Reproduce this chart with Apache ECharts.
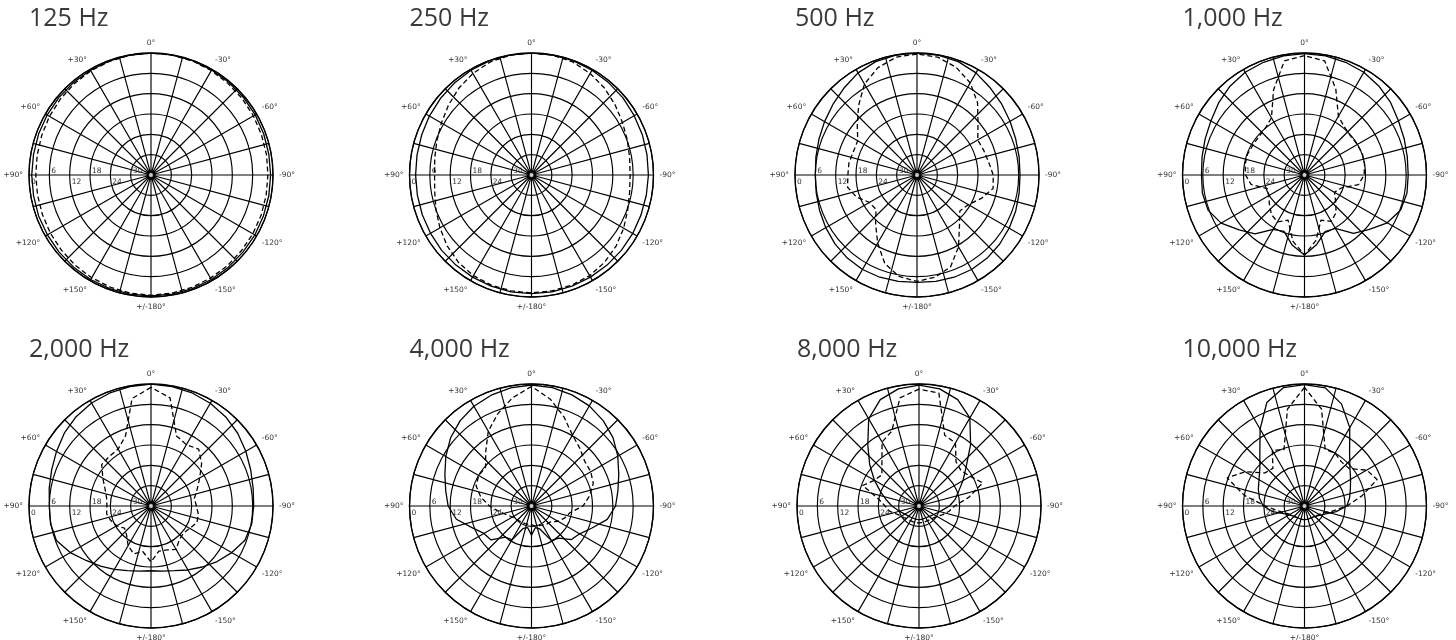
<!DOCTYPE html>
<html>
<head>
<meta charset="utf-8">
<script src="https://cdn.jsdelivr.net/npm/echarts@6/dist/echarts.min.js"></script>
<style>
html,body{margin:0;padding:0;background:#fff;}
#chart{width:1456px;height:640px;}
</style>
</head>
<body>
<div id="chart"></div>
<script>
// Panel titles
const titles = ['125 Hz', '250 Hz', '500 Hz', '1,000 Hz', '2,000 Hz', '4,000 Hz', '8,000 Hz', '10,000 Hz'];

// Measurement angles (degrees): 0 .. +180 then -170 .. -10
const angles = [0, 10, 20, 30, 40, 50, 60, 70, 80, 90, 100, 110, 120, 130, 140, 150, 160, 170, 180,
  -170, -160, -150, -140, -130, -120, -110, -100, -90, -80, -70, -60, -50, -40, -30, -20, -10];

// Radius (dB) tick values
const radiusTicks = [-36, -30, -24, -18, -12, -6, 0];

// Levels in dB, one value per angle above
const hz125Solid = [0, -0.1, -0.2, -0.3, -0.4, -0.5, -0.6, -0.7, -0.8, -0.8, -0.8, -0.7, -0.7, -0.6, -0.5, -0.4, -0.3, -0.3, -0.3,
  -0.3, -0.3, -0.4, -0.5, -0.6, -0.6, -0.7, -0.7, -0.7, -0.7, -0.6, -0.5, -0.4, -0.3, -0.2, -0.1, 0];
const hz125Dashed = [0, -0.1, -0.3, -0.5, -0.8, -1.1, -1.4, -1.7, -1.9, -2.0, -2.0, -1.9, -1.7, -1.5, -1.2, -1.0, -0.8, -0.6, -0.5,
  -0.6, -0.7, -0.9, -1.0, -1.2, -1.3, -1.4, -1.5, -1.5, -1.4, -1.3, -1.1, -0.9, -0.7, -0.4, -0.2, -0.1];

const hz250Solid = [0, 0, -0.1, -0.3, -0.6, -0.9, -1.2, -1.5, -1.7, -1.8, -1.8, -1.7, -1.6, -1.4, -1.3, -1.2, -1.1, -1.0, -1.0,
  -1.0, -1.1, -1.2, -1.3, -1.4, -1.5, -1.6, -1.6, -1.5, -1.4, -1.2, -1.0, -0.7, -0.5, -0.3, -0.1, 0];
const hz250Dashed = [0, -0.1, -0.5, -1.4, -2.6, -4.0, -5.3, -6.3, -7.0, -7.4, -7.0, -6.0, -4.8, -3.5, -2.4, -1.7, -1.4, -1.3, -1.2,
  -1.3, -1.4, -1.7, -2.4, -3.4, -4.6, -5.8, -6.6, -6.9, -6.6, -5.9, -5.0, -3.8, -2.5, -1.4, -0.5, -0.1];

const hz500Solid = [0, -0.1, -0.4, -1.2, -2.5, -3.6, -4.5, -5.2, -5.7, -6.0, -5.8, -5.4, -4.9, -4.4, -4.0, -3.8, -3.9, -4.1, -4.3,
  -4.1, -3.9, -3.8, -3.9, -4.2, -4.6, -5.0, -5.4, -5.6, -5.4, -5.0, -4.3, -3.4, -2.4, -1.2, -0.4, -0.1];
const hz500Dashed = [-0.3, -0.7, -2.3, -5.0, -9.2, -13.0, -15.8, -16.0, -15.6, -15.6, -15.2, -17.0, -19.8, -20.2, -17.0, -12.8, -8.2, -5.6, -4.6,
  -5.4, -7.1, -11.5, -16.5, -19.5, -18.5, -15.8, -13.2, -13.5, -14.5, -15.0, -15.3, -12.5, -8.2, -4.6, -2.2, -0.7];

const hz1000Solid = [-0.2, -0.3, -0.6, -1.0, -1.8, -2.9, -4.1, -4.8, -5.3, -5.6, -5.4, -5.7, -7.6, -10.8, -13.3, -17.5, -18.3, -15.0, -12.4,
  -15.2, -18.2, -17.8, -13.5, -11.0, -7.8, -5.8, -5.3, -5.4, -5.2, -4.7, -4.0, -2.8, -1.8, -1.0, -0.6, -0.3];
const hz1000Dashed = [-0.8, -1.8, -9.3, -16.5, -18.0, -18.4, -18.4, -18.1, -18.2, -18.6, -20.0, -24.3, -23.8, -22.5, -20.8, -20.0, -21.8, -16.2, -12.4,
  -16.4, -21.8, -20.2, -21.5, -24.0, -25.8, -24.6, -19.8, -18.4, -18.0, -17.8, -18.0, -18.2, -17.6, -16.0, -9.0, -1.8];

const hz2000Solid = [0, -0.2, -0.5, -0.9, -1.6, -2.6, -3.8, -4.8, -5.5, -6.0, -5.9, -6.3, -8.5, -11.0, -12.8, -14.4, -15.7, -16.5, -16.9,
  -16.5, -15.7, -14.2, -12.5, -10.5, -8.5, -6.5, -5.8, -5.7, -5.4, -4.7, -3.7, -2.6, -1.7, -1.0, -0.5, -0.2];
const hz2000Dashed = [-1.0, -3.8, -14.0, -16.6, -16.9, -17.0, -19.6, -21.6, -22.7, -23.0, -22.7, -23.4, -24.3, -25.8, -24.8, -22.5, -21.0, -22.3, -19.5,
  -22.5, -22.2, -21.2, -23.0, -23.5, -22.8, -21.6, -21.8, -22.6, -23.0, -21.5, -19.4, -16.5, -14.1, -15.1, -14.0, -3.6];

const hz4000Solid = [-0.3, -0.6, -1.2, -2.0, -3.2, -4.8, -6.8, -8.8, -10.3, -11.4, -13.5, -17.3, -19.8, -20.4, -24.0, -24.5, -29.0, -29.5, -27.4,
  -29.5, -28.8, -24.2, -23.6, -20.6, -19.6, -17.0, -13.3, -11.2, -10.1, -8.6, -6.6, -4.6, -3.1, -1.9, -1.1, -0.5];
const hz4000Dashed = [-0.7, -3.6, -7.0, -10.5, -15.0, -18.3, -18.0, -18.6, -20.8, -23.6, -26.4, -28.3, -29.5, -30.0, -30.3, -30.4, -30.5, -30.5, -30.5,
  -30.0, -29.8, -29.5, -29.0, -28.7, -27.0, -25.6, -24.5, -20.8, -18.6, -16.6, -15.8, -15.5, -13.8, -11.8, -8.0, -4.0];

const hz8000Solid = [-0.3, -0.9, -2.6, -6.3, -12.5, -17.0, -20.8, -24.0, -26.3, -28.0, -29.5, -30.5, -31.2, -31.6, -31.8, -32.0, -32.0, -32.0, -32.0,
  -32.0, -32.0, -32.0, -31.8, -31.5, -31.0, -30.2, -29.0, -27.0, -25.2, -23.6, -21.0, -17.8, -12.3, -6.0, -2.6, -0.9];
const hz8000Dashed = [-1.5, -3.6, -12.5, -14.2, -19.0, -21.7, -20.8, -18.3, -23.8, -26.0, -27.2, -29.0, -30.0, -30.5, -31.0, -31.0, -31.0, -31.0, -31.0,
  -31.0, -31.0, -31.0, -30.8, -30.5, -29.8, -28.5, -27.0, -25.5, -21.0, -16.0, -18.5, -19.8, -19.0, -14.5, -13.8, -2.2];

const hz10000Solid = [-0.2, -0.5, -3.5, -9.8, -15.5, -18.8, -20.5, -21.5, -22.5, -23.8, -26.5, -29.5, -30.8, -31.5, -31.8, -32.0, -32.0, -32.0, -32.0,
  -32.0, -32.0, -32.0, -31.8, -31.4, -30.6, -29.3, -26.5, -23.5, -22.5, -21.6, -20.3, -18.5, -15.3, -9.3, -4.0, -0.6];
const hz10000Dashed = [-1.0, -7.0, -18.3, -17.0, -21.5, -20.8, -15.8, -11.7, -18.0, -24.5, -28.0, -30.0, -31.0, -31.5, -31.8, -32.0, -32.0, -32.0, -32.0,
  -32.0, -32.0, -32.0, -31.8, -31.5, -31.0, -30.0, -27.5, -23.5, -18.8, -13.2, -14.8, -18.8, -19.0, -18.0, -18.2, -7.0];

const solidSeries = [hz125Solid, hz250Solid, hz500Solid, hz1000Solid, hz2000Solid, hz4000Solid, hz8000Solid, hz10000Solid];
const dashedSeries = [hz125Dashed, hz250Dashed, hz500Dashed, hz1000Dashed, hz2000Dashed, hz4000Dashed, hz8000Dashed, hz10000Dashed];

// Layout (pixels)
const centers = [[151, 175], [531.5, 175], [917, 175], [1304.5, 175],
                 [151, 506], [531.5, 506], [919, 506], [1304.5, 506]];
const R = 122;

// angle axis runs from +90 (left) counter-clockwise: +90 -> +/-180 (bottom) -> -90 (right) -> 0 (top)
function toAxisAngle(a) { return a < 90 ? a + 360 : a; }
function buildPoints(vals) {
  const p = angles.map((a, i) => [vals[i], toAxisAngle(a)]);
  p.push(p[0]);
  return p;
}
function angleLabel(v) {
  if (v % 30 !== 0 || v === 450) return '';
  const a = v > 180 ? v - 360 : v;
  if (a === 180) return '+/-180°';
  if (a > 0) return '+' + a + '°';
  return a + '°';
}
function radiusLabel(v) {
  if (v === radiusTicks[0]) return '';
  const idx = radiusTicks.indexOf(v);
  const txt = String(Math.abs(v));
  return (idx % 2 === 1) ? '{u|' + txt + '}' : '{d|' + txt + '}';
}

const option = {
  backgroundColor: '#fff',
  animation: false,
  title: [],
  polar: [],
  angleAxis: [],
  radiusAxis: [],
  series: []
};

for (let i = 0; i < 8; i++) {
  const c = centers[i];
  option.title.push({
    text: titles[i],
    left: c[0] - R,
    top: i < 4 ? 6 : 337,
    padding: 0,
    textStyle: { fontFamily: 'Open Sans', fontSize: 25, fontWeight: 'normal', color: '#3a3a3a' }
  });
  option.polar.push({ center: [c[0], c[1]], radius: R });
  option.angleAxis.push({
    polarIndex: i,
    type: 'value',
    min: 90, max: 450, interval: 15,
    startAngle: 180,
    clockwise: false,
    axisLine: { show: true, lineStyle: { color: '#000', width: 1.3 } },
    axisTick: { show: false },
    splitLine: { show: true, lineStyle: { color: '#000', width: 1.15 } },
    axisLabel: {
      margin: 6, fontSize: 7.5, color: '#333', fontFamily: 'DejaVu Sans',
      formatter: angleLabel
    }
  });
  option.radiusAxis.push({
    polarIndex: i,
    type: 'value',
    min: -36, max: 0, interval: 6,
    axisLine: { show: false },
    axisTick: { show: false },
    splitLine: { show: true, lineStyle: { color: '#000', width: 1.15 } },
    axisLabel: {
      margin: 0, fontSize: 7.5, color: '#333', fontFamily: 'DejaVu Sans',
      align: 'left', verticalAlign: 'middle',
      formatter: radiusLabel,
      rich: {
        u: { fontSize: 7.5, color: '#333', fontFamily: 'DejaVu Sans', padding: [0, 0, 8, 2] },
        d: { fontSize: 7.5, color: '#333', fontFamily: 'DejaVu Sans', padding: [14, 0, 0, 2] }
      }
    }
  });
  option.series.push({
    type: 'line', coordinateSystem: 'polar', polarIndex: i,
    data: buildPoints(solidSeries[i]),
    showSymbol: false, silent: true, z: 5,
    lineStyle: { color: '#000', width: 1.3, type: 'solid' }
  });
  option.series.push({
    type: 'line', coordinateSystem: 'polar', polarIndex: i,
    data: buildPoints(dashedSeries[i]),
    showSymbol: false, silent: true, z: 5,
    lineStyle: { color: '#000', width: 1.3, type: [5, 3] }
  });
  option.series.push({
    type: 'scatter', coordinateSystem: 'polar', polarIndex: i,
    data: [[radiusTicks[0], 360]],
    symbol: 'circle', symbolSize: 5, silent: true, z: 6,
    itemStyle: { color: '#fff', borderColor: '#000', borderWidth: 1.2 }
  });
}

const chart = echarts.init(document.getElementById('chart'), null, { renderer: 'canvas' });
chart.setOption(option);
</script>
</body>
</html>
